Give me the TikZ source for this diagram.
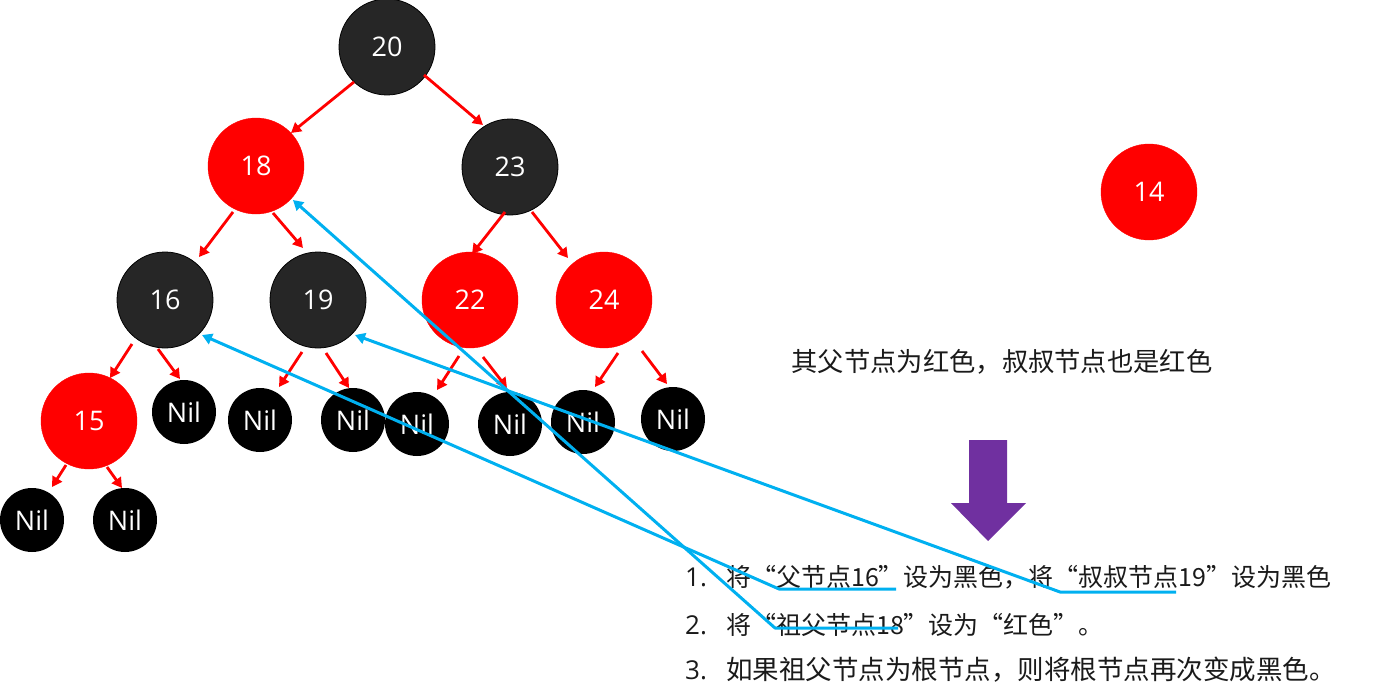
\documentclass[tikz,border=0pt]{standalone}
\usepackage{fontspec}
\setmainfont{Open Sans}
\newfontfamily\cjk{Noto Sans CJK SC}
\usetikzlibrary{arrows.meta,calc}
\definecolor{darkn}{HTML}{262626}
\definecolor{redn}{HTML}{FF0000}
\definecolor{bluel}{HTML}{00B0F0}
\definecolor{purp}{HTML}{7030A0}
\definecolor{txt}{HTML}{1A1A1A}
\begin{document}
\begin{tikzpicture}[x=1pt,y=-1pt,
  lbl/.style={text=white,font=\fontsize{27}{32}\selectfont},
  rb/.style={circle,draw=redn,fill=redn,minimum size=96pt,inner sep=0pt,lbl},
  bk/.style={circle,draw=black,line width=0.8pt,fill=darkn,minimum size=96pt,inner sep=0pt,lbl},
  nil/.style={circle,fill=black,minimum size=64pt,inner sep=0pt,lbl},
  rarr/.style={draw=redn,line width=2.8pt,-{Triangle[length=10pt,width=11pt]}},
  barr/.style={draw=bluel,line width=3pt,line join=round,-{Triangle[length=10pt,width=11pt]}},
  cn/.style={font=\cjk\fontsize{25}{30}\selectfont,text=txt,inner sep=0pt,anchor=west},
  num/.style={font=\fontsize{26}{30}\selectfont,text=txt,inner sep=0pt,anchor=west}
]
\path[use as bounding box] (0,0) rectangle (1393,693);

% tree nodes
\node[bk] (n20) at (387,47) {20};
\node[rb] (n18) at (256,166) {18};
\node[bk] (n23) at (510,167) {23};
\node[bk] (n16) at (165,300) {16};
\node[bk] (n19) at (318,300) {19};
\node[rb] (n22) at (470,300) {22};
\node[rb] (n24) at (604,300) {24};
\node[rb] (n15) at (89,421) {15};
\node[rb] (n14) at (1149,192) {14};

\node[nil] (na) at (184,412) {Nil};
\node[nil] (nb) at (260,420) {Nil};
\node[nil] (nc) at (353,420) {Nil};
\node[nil] (nd) at (417,424) {Nil};
\node[nil] (ne) at (510,424) {Nil};
\node[nil] (nf) at (583,422) {Nil};
\node[nil] (ng) at (673,419) {Nil};
\node[nil] (nh) at (32,520) {Nil};
\node[nil] (ni) at (125,520) {Nil};

% red arrows
\draw[rarr] ($(n20)+(-33,35)$) -- ($(n18)+(35,-33)$);
\draw[rarr] ($(n20)+(37,28)$) -- ($(n23)+(-27,-42)$);
\draw[rarr] ($(n18)+(-23,46)$) -- ($(n16)+(34,-43)$);
\draw[rarr] ($(n18)+(17,47)$) -- ($(n19)+(-15,-52)$);
\draw[rarr] ($(n23)+(-5,45)$) -- ($(n22)+(2,-46)$);
\draw[rarr] ($(n23)+(22,45)$) -- ($(n24)+(-36,-42)$);
\draw[rarr] ($(n16)+(-33,44)$) -- ($(n15)+(21,-43)$);
\draw[rarr] ($(n16)+(-7,49)$) -- ($(na)+(-4,-33)$);
\draw[rarr] ($(n19)+(-16,52)$) -- ($(nb)+(19,-33)$);
\draw[rarr] ($(n19)+(8,53)$) -- ($(nc)+(-4,-32)$);
\draw[rarr] ($(n22)+(-11,56)$) -- ($(nd)+(20,-34)$);
\draw[rarr] ($(n22)+(13,57)$) -- ($(ne)+(-3,-36)$);
\draw[rarr] ($(n24)+(14,53)$) -- ($(nf)+(12,-35)$);
\draw[rarr] ($(n24)+(38,51)$) -- ($(ng)+(-6,-35)$);
\draw[rarr] ($(n15)+(-23,44)$) -- ($(nh)+(20,-33)$);
\draw[rarr] ($(n15)+(18,46)$) -- ($(ni)+(-3,-32)$);

% right side text
\node[font=\cjk\fontsize{26.3}{30}\selectfont,text=txt,inner sep=0pt] (cond) at (1002,362) {其父节点为红色，叔叔节点也是红色};

% purple block arrow
\fill[purp] (969,440) -- (1007,440) -- (1007,503) -- (1026,503) -- (988,541) -- (951,503) -- (969,503) -- cycle;

% list
\node[num] (l1n) at (685,577) {1.};
\node[cn] (l1) at (726,577) {将“父节点16”设为黑色，将“叔叔节点19”设为黑色};
\node[num] (l2n) at (685,625) {2.};
\node[cn] (l2) at (726,625) {将“祖父节点18”设为“红色”。};
\node[num] (l3n) at (685,670) {3.};
\node[cn,font=\cjk\fontsize{26.5}{30}\selectfont] (l3) at (726,670) {如果祖父节点为根节点，则将根节点再次变成黑色。};

% underline end points
\coordinate (u1s) at (779,589);
\coordinate (u1e) at (896,589);
\coordinate (u2s) at (775,628);
\coordinate (u2e) at (898,628);
\coordinate (u3s) at (1060,592);
\coordinate (u3e) at (1176,592);

% blue connectors
\draw[barr] (u1e) -- (u1s) -- ($(n16)+(37,35)$);
\draw[barr] (u2e) -- (u2s) -- ($(n18)+(37,34)$);
\draw[barr] (u3e) -- (u3s) -- ($(n19)+(37,35)$);
\end{tikzpicture}
\end{document}
